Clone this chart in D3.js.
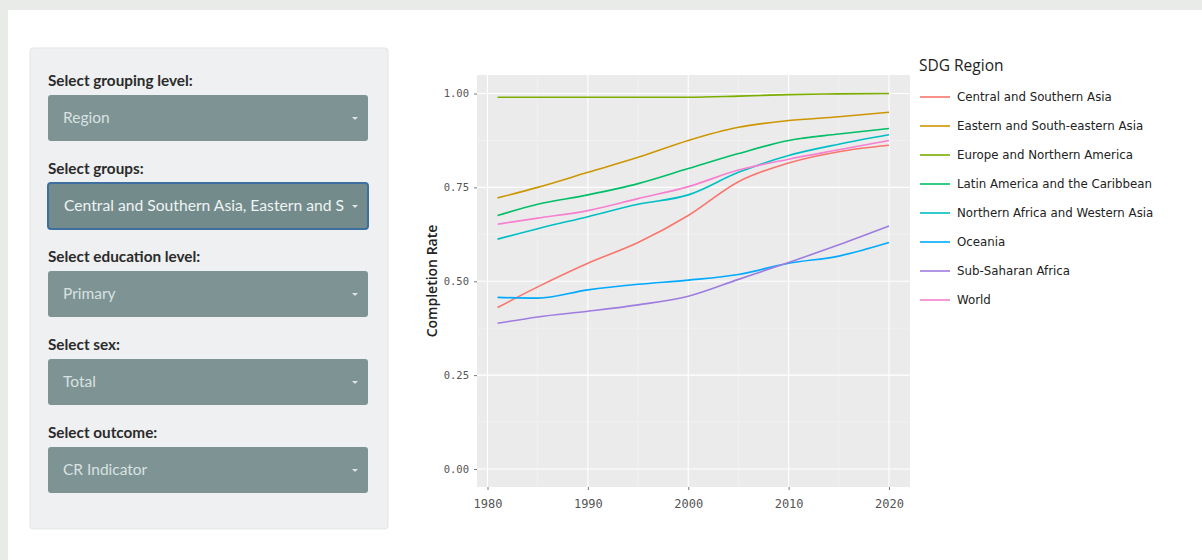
<!DOCTYPE html>
<html><head><meta charset="utf-8">
<script src="https://cdn.jsdelivr.net/npm/d3@7"></script>
<style>
html,body{margin:0;padding:0;background:#fff;}
svg{display:block;}
</style></head>
<body>
<script>
// ---- data ----
const years = [1981, 1985, 1990, 1995, 2000, 2005, 2010, 2015, 2020];
const regions = ["Central and Southern Asia","Eastern and South-eastern Asia","Europe and Northern America","Latin America and the Caribbean","Northern Africa and Western Asia","Oceania","Sub-Saharan Africa","World"];
const centralSouthernAsia = [0.43, 0.485, 0.548, 0.603, 0.675, 0.765, 0.815, 0.845, 0.862];
const easternSEAsia       = [0.722, 0.75, 0.79, 0.83, 0.875, 0.91, 0.928, 0.938, 0.95];
const europeNAmerica      = [0.99, 0.99, 0.99, 0.99, 0.99, 0.993, 0.997, 0.999, 1.0];
const latinAmerica        = [0.675, 0.705, 0.73, 0.76, 0.80, 0.84, 0.875, 0.892, 0.907];
const nAfricaWAsia        = [0.612, 0.64, 0.672, 0.705, 0.73, 0.79, 0.835, 0.865, 0.89];
const oceania             = [0.457, 0.455, 0.477, 0.492, 0.503, 0.518, 0.548, 0.567, 0.603];
const subSaharanAfrica    = [0.388, 0.405, 0.42, 0.437, 0.46, 0.505, 0.55, 0.597, 0.647];
const world               = [0.652, 0.668, 0.688, 0.72, 0.752, 0.796, 0.825, 0.85, 0.875];
const seriesValues = [centralSouthernAsia, easternSEAsia, europeNAmerica, latinAmerica, nAfricaWAsia, oceania, subSaharanAfrica, world];
const colors = ["#F8766D","#CD9600","#7CAE00","#00BE67","#00BFC4","#00A9FF","#9E7CE0","#F77FD0"];
const xTicks = [1980, 1990, 2000, 2010, 2020];
const yTicks = [0, 0.25, 0.5, 0.75, 1.0];
const controlLabels = ["Select grouping level:", "Select groups:", "Select education level:", "Select sex:", "Select outcome:"];
const controlValues = ["Region", "Central and Southern Asia, Eastern and S", "Primary", "Total", "CR Indicator"];

const W = 1202, H = 560;
const svg = d3.select("body").append("svg").attr("width", W).attr("height", H);

// page frame
svg.append("rect").attr("x",0).attr("y",0).attr("width",W).attr("height",H).attr("fill","#ffffff");
svg.append("rect").attr("x",0).attr("y",0).attr("width",W).attr("height",10).attr("fill","#e9ebe9");
svg.append("rect").attr("x",0).attr("y",0).attr("width",8).attr("height",H).attr("fill","#e9ebe9");

// sidebar
const side = svg.append("g");
side.append("rect").attr("x",30).attr("y",48).attr("width",358).attr("height",481)
  .attr("fill","#eef0f1").attr("stroke","#e3e6e7").attr("stroke-width",1).attr("rx",3);
controlLabels.forEach((lab, i) => {
  const y0 = 86 + i * 88;
  side.append("text").attr("x",48).attr("y",y0).text(lab)
    .attr("font-family","Lato, 'Open Sans', sans-serif").attr("font-weight","bold")
    .attr("font-size",15.3).attr("fill","#2b2b2b");
  const sel = i === 1;
  const cg = side.append("g").attr("transform",`translate(48,${y0+9})`);
  cg.append("rect").attr("width",320).attr("height",46).attr("rx",3)
    .attr("fill", sel ? "#748b8c" : "#7e9393")
    .attr("stroke", sel ? "#3f6fa0" : "none").attr("stroke-width", sel ? 2 : 0);
  const t = cg.append("text").attr("x",sel?16:15).attr("y",28).text(controlValues[i])
    .attr("font-family","Lato, 'Open Sans', sans-serif").attr("font-size",15.5)
    .attr("fill", sel ? "#eef3f3" : "#d8e2e2");
  if (sel) t.attr("textLength", 280).attr("lengthAdjust","spacingAndGlyphs");
  cg.append("path").attr("d","M304,22 l3,3 l3,-3 z").attr("fill","#dde5e5");
});

// plot
const panel = {x0: 477, x1: 910, y0: 75, y1: 487};
const x = d3.scaleLinear().domain([1980, 2020]).range([487.5, 889]);
const y = d3.scaleLinear().domain([0, 1]).range([469, 93.5]);

svg.append("rect").attr("x",panel.x0).attr("y",panel.y0)
  .attr("width",panel.x1-panel.x0).attr("height",panel.y1-panel.y0).attr("fill","#ebebeb");

const grid = svg.append("g");
d3.range(1985, 2020, 10).forEach(v => grid.append("line").attr("x1",x(v)).attr("x2",x(v))
  .attr("y1",panel.y0).attr("y2",panel.y1).attr("stroke","#f5f5f5").attr("stroke-width",0.6));
[0.125,0.375,0.625,0.875].forEach(v => grid.append("line").attr("y1",y(v)).attr("y2",y(v))
  .attr("x1",panel.x0).attr("x2",panel.x1).attr("stroke","#f5f5f5").attr("stroke-width",0.6));
xTicks.forEach(v => grid.append("line").attr("x1",x(v)).attr("x2",x(v))
  .attr("y1",panel.y0).attr("y2",panel.y1).attr("stroke","#ffffff").attr("stroke-width",1.1));
yTicks.forEach(v => grid.append("line").attr("y1",y(v)).attr("y2",y(v))
  .attr("x1",panel.x0).attr("x2",panel.x1).attr("stroke","#ffffff").attr("stroke-width",1.1));

const line = d3.line().x(d => x(d[0])).y(d => y(d[1])).curve(d3.curveMonotoneX);
seriesValues.forEach((vals, i) => {
  svg.append("path").datum(years.map((yr, j) => [yr, vals[j]]))
    .attr("d", line).attr("fill","none").attr("stroke", colors[i]).attr("stroke-width",1.6);
});

// axes
const xAxis = svg.append("g").attr("transform",`translate(0,${panel.y1})`)
  .call(d3.axisBottom(x).tickValues(xTicks).tickFormat(d3.format("d")).tickSize(3).tickPadding(9));
const yAxis = svg.append("g").attr("transform",`translate(${panel.x0},0)`)
  .call(d3.axisLeft(y).tickValues(yTicks).tickFormat(d3.format(".2f")).tickSize(3).tickPadding(5));
[xAxis, yAxis].forEach(a => {
  a.select(".domain").remove();
  a.selectAll(".tick line").attr("stroke","#555").attr("stroke-width",0.8);
  a.selectAll(".tick text").attr("fill","#555").attr("font-family","'DejaVu Sans Mono', monospace");
});
yAxis.selectAll(".tick text").attr("font-size",10.5);
xAxis.selectAll(".tick text").attr("font-size",12);

svg.append("text").attr("transform","translate(437,281) rotate(-90)").attr("text-anchor","middle")
  .text("Completion Rate").attr("font-family","'Open Sans', 'DejaVu Sans', sans-serif")
  .attr("font-size",14).attr("font-weight","600").attr("fill","#222");

// legend
const leg = svg.append("g");
leg.append("text").attr("x",919).attr("y",71).text("SDG Region")
  .attr("font-family","'Open Sans', 'DejaVu Sans', sans-serif").attr("font-size",15.5).attr("fill","#222");
regions.forEach((r, i) => {
  const ly = 97 + i * 29;
  leg.append("line").attr("x1",920).attr("x2",950).attr("y1",ly).attr("y2",ly)
    .attr("stroke",colors[i]).attr("stroke-width",1.6);
  leg.append("text").attr("x",957).attr("y",ly+4).text(r)
    .attr("font-family","'DejaVu Sans', sans-serif").attr("font-size",11.8).attr("fill","#222");
});
</script>
</body></html>
